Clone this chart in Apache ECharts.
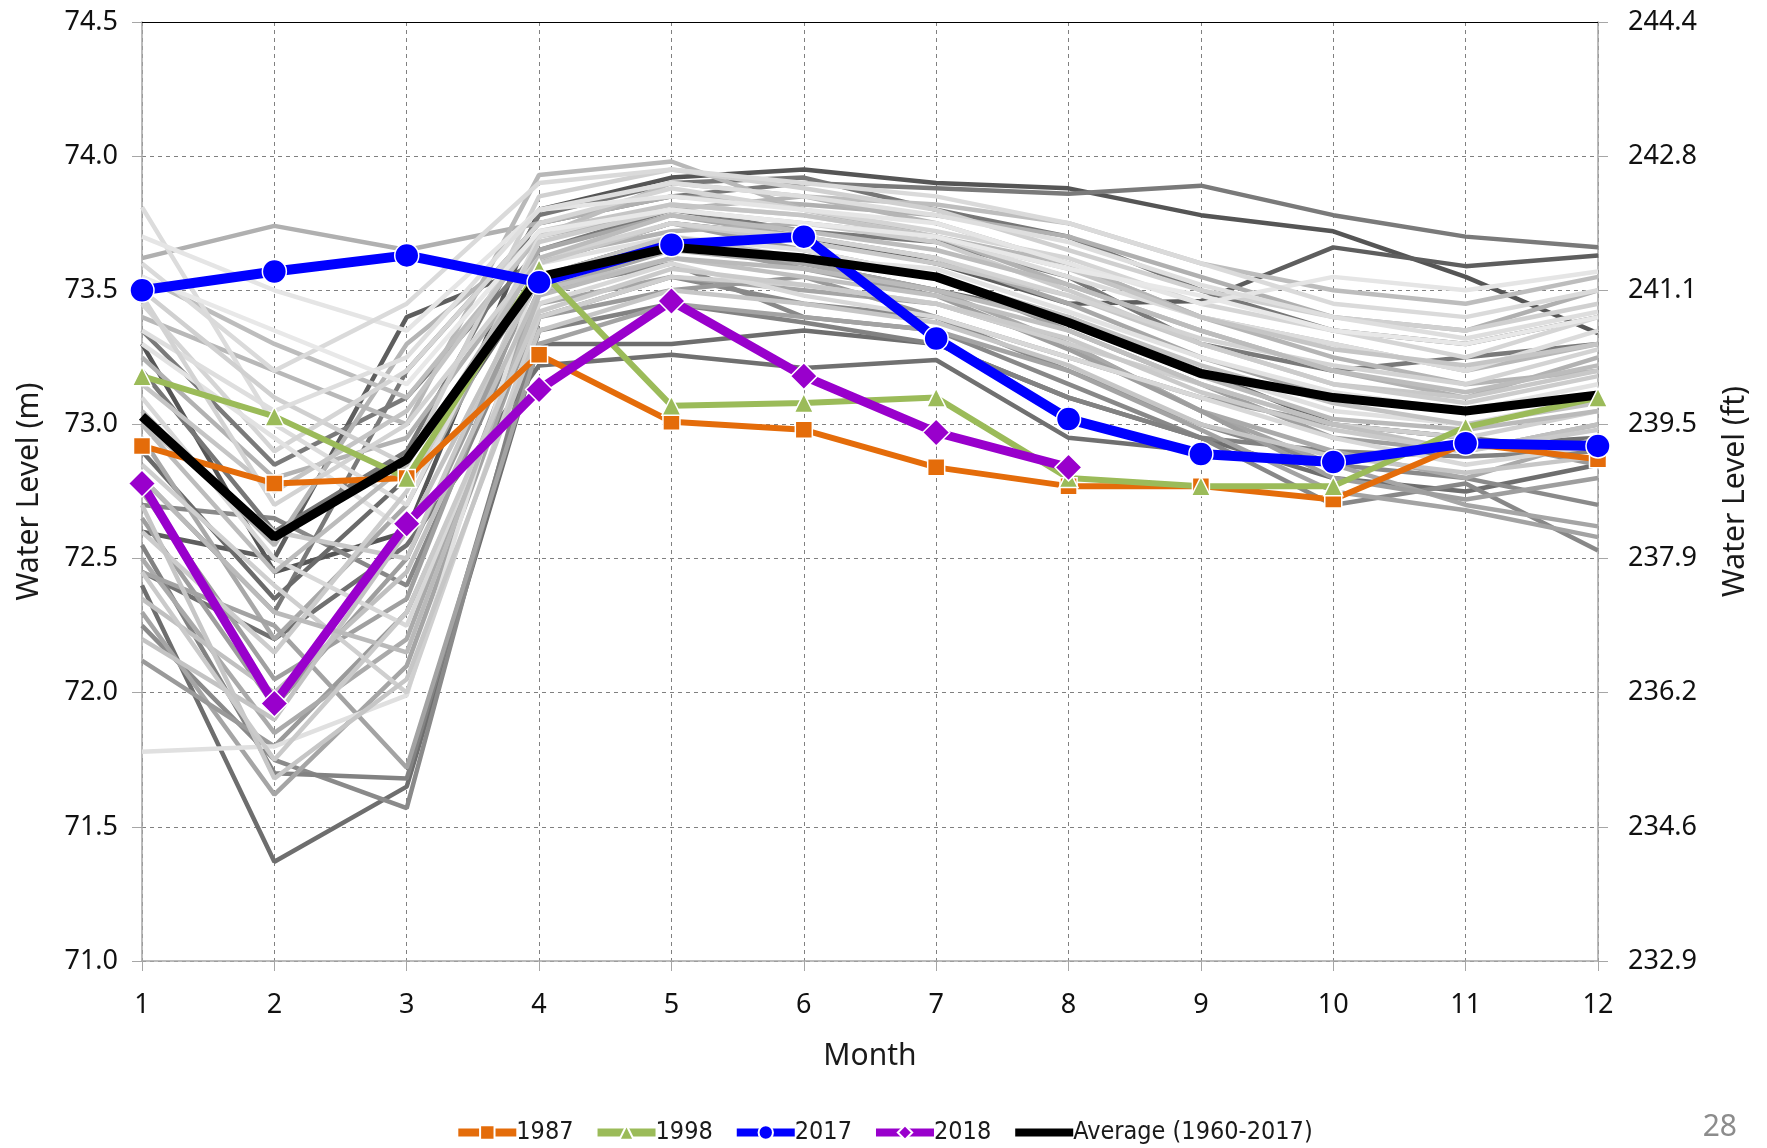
<!DOCTYPE html>
<html>
<head>
<meta charset="utf-8">
<title>Water Level by Month</title>
<script src="https://cdn.jsdelivr.net/npm/echarts@6/dist/echarts.min.js"></script>
<style>
  html, body { margin: 0; padding: 0; background: #fff; }
  #chart { width: 1767px; height: 1148px; }
</style>
</head>
<body>
<div id="chart"></div>
<script>
// months on the x axis
var months = ['1', '2', '3', '4', '5', '6', '7', '8', '9', '10', '11', '12'];

// highlighted years (m)
var y1987 = [72.92, 72.78, 72.80, 73.26, 73.01, 72.98, 72.84, 72.77, 72.77, 72.72, 72.93, 72.87];
var y1998 = [73.18, 73.03, 72.80, 73.58, 73.07, 73.08, 73.10, 72.80, 72.77, 72.77, 72.99, 73.10];
var y2017 = [73.50, 73.57, 73.63, 73.53, 73.67, 73.70, 73.32, 73.02, 72.89, 72.86, 72.93, 72.92];
var y2018 = [72.78, 71.96, 72.63, 73.13, 73.46, 73.18, 72.97, 72.84, null, null, null, null];
var average = [73.03, 72.58, 72.87, 73.55, 73.66, 73.62, 73.55, 73.38, 73.19, 73.10, 73.05, 73.11];

// the other years 1960-2017, drawn in grey
var greyShades = [
  '#6e6e6e', '#8a8a8a', '#555555', '#7a7a7a', '#5e5e5e', '#707070', '#7a7a7a', '#888888', '#6a6a6a', '#828282', '#777777',
  '#b0b0b0', '#a5a5a5', '#9a9a9a', '#b8b8b8', '#a0a0a0', '#b5b5b5', '#aaaaaa', '#bdbdbd', '#a8a8a8', '#9e9e9e', '#b2b2b2', '#a3a3a3',
  '#e0e0e0', '#dcdcdc', '#d0d0d0', '#c8c8c8', '#d5d5d5', '#e5e5e5', '#cfcfcf', '#c5c5c5', '#dadada', '#c0c0c0', '#e2e2e2',
  '#cccccc', '#d8d8d8', '#c3c3c3', '#dedede', '#bababa', '#d3d3d3', '#c6c6c6', '#e8e8e8', '#bcbcbc', '#cacaca'
];
var greyLevels = [
  [72.40, 71.37, 71.65, 73.30, 73.30, 73.35, 73.30, 73.10, 72.95, 72.80, 72.75, 72.85],
  [72.25, 71.75, 71.57, 73.40, 73.55, 73.45, 73.40, 73.20, 73.00, 72.85, 72.80, 72.70],
  [73.30, 72.45, 72.60, 73.80, 73.92, 73.95, 73.90, 73.88, 73.78, 73.72, 73.55, 73.34],
  [72.80, 72.30, 73.20, 73.75, 73.85, 73.90, 73.88, 73.86, 73.89, 73.78, 73.70, 73.66],
  [72.60, 72.50, 73.40, 73.60, 73.75, 73.70, 73.60, 73.45, 73.46, 73.66, 73.59, 73.63],
  [72.45, 72.20, 72.55, 73.22, 73.26, 73.21, 73.24, 72.95, 72.90, 72.85, 72.92, 72.95],
  [73.35, 72.85, 73.10, 73.65, 73.80, 73.72, 73.68, 73.55, 73.30, 73.20, 73.25, 73.30],
  [72.70, 72.65, 72.40, 73.50, 73.60, 73.40, 73.35, 73.15, 72.95, 72.70, 72.78, 72.53],
  [72.90, 72.35, 72.80, 73.55, 73.70, 73.60, 73.50, 73.40, 73.20, 73.00, 72.95, 72.90],
  [72.55, 71.70, 71.68, 73.35, 73.45, 73.38, 73.30, 73.10, 72.95, 72.90, 72.88, 72.90],
  [73.20, 72.60, 72.90, 73.78, 73.90, 73.92, 73.80, 73.70, 73.50, 73.35, 73.30, 73.40],
  [73.62, 73.74, 73.65, 73.75, 73.85, 73.82, 73.78, 73.70, 73.55, 73.40, 73.35, 73.50],
  [72.30, 71.62, 72.10, 73.45, 73.55, 73.50, 73.45, 73.30, 73.05, 72.85, 72.70, 72.62],
  [72.12, 71.80, 72.30, 73.40, 73.50, 73.55, 73.40, 73.25, 73.10, 73.00, 72.95, 72.85],
  [73.40, 73.20, 73.00, 73.93, 73.98, 73.80, 73.70, 73.60, 73.40, 73.30, 73.20, 73.30],
  [72.75, 72.05, 72.35, 73.60, 73.75, 73.65, 73.55, 73.35, 73.15, 72.95, 72.90, 73.00],
  [73.05, 72.55, 73.30, 73.70, 73.80, 73.85, 73.75, 73.60, 73.40, 73.25, 73.15, 73.20],
  [72.50, 71.85, 72.20, 73.50, 73.65, 73.60, 73.50, 73.30, 73.05, 72.90, 72.80, 72.95],
  [73.55, 73.30, 73.10, 73.70, 73.90, 73.85, 73.82, 73.75, 73.60, 73.50, 73.45, 73.55],
  [72.95, 72.20, 72.70, 73.65, 73.78, 73.70, 73.62, 73.45, 73.25, 73.10, 73.05, 73.10],
  [72.65, 71.95, 72.50, 73.55, 73.68, 73.58, 73.48, 73.28, 73.05, 72.80, 72.72, 72.80],
  [73.25, 72.80, 72.95, 73.62, 73.72, 73.75, 73.70, 73.52, 73.35, 73.20, 73.10, 73.25],
  [72.45, 72.25, 71.72, 73.30, 73.45, 73.40, 73.35, 73.20, 72.98, 72.75, 72.68, 72.58],
  [71.78, 71.80, 71.99, 73.60, 73.70, 73.65, 73.55, 73.40, 73.20, 73.05, 73.00, 73.10],
  [73.81, 73.00, 72.70, 73.70, 73.82, 73.78, 73.70, 73.55, 73.40, 73.30, 73.20, 73.35],
  [73.50, 73.10, 72.85, 73.85, 73.95, 73.88, 73.80, 73.65, 73.50, 73.40, 73.35, 73.45],
  [73.00, 72.60, 72.50, 73.60, 73.75, 73.68, 73.60, 73.48, 73.30, 73.15, 73.10, 73.20],
  [73.45, 72.90, 73.20, 73.75, 73.88, 73.80, 73.72, 73.62, 73.45, 73.35, 73.25, 73.40],
  [73.70, 73.50, 73.35, 73.80, 73.85, 73.80, 73.75, 73.60, 73.45, 73.55, 73.50, 73.57],
  [72.85, 72.40, 72.00, 73.40, 73.55, 73.52, 73.45, 73.30, 73.15, 73.00, 72.95, 73.05],
  [73.15, 72.75, 73.05, 73.72, 73.82, 73.78, 73.70, 73.58, 73.40, 73.28, 73.22, 73.30],
  [73.60, 73.20, 73.45, 73.90, 73.95, 73.90, 73.85, 73.75, 73.60, 73.45, 73.40, 73.50],
  [72.35, 72.00, 72.45, 73.50, 73.62, 73.55, 73.48, 73.35, 73.15, 73.00, 72.90, 73.00],
  [73.30, 72.95, 72.60, 73.55, 73.65, 73.62, 73.58, 73.42, 73.25, 73.12, 73.05, 73.15],
  [72.60, 72.15, 72.75, 73.68, 73.80, 73.75, 73.68, 73.50, 73.30, 73.15, 73.08, 73.18],
  [73.10, 72.50, 72.25, 73.45, 73.60, 73.48, 73.40, 73.25, 73.10, 72.95, 72.85, 72.92],
  [72.20, 71.90, 72.60, 73.55, 73.70, 73.62, 73.55, 73.40, 73.22, 73.08, 73.00, 73.08],
  [73.35, 73.05, 73.25, 73.80, 73.90, 73.85, 73.78, 73.68, 73.52, 73.40, 73.32, 73.42],
  [72.80, 72.30, 72.15, 73.48, 73.62, 73.58, 73.50, 73.38, 73.18, 73.02, 72.98, 73.05],
  [73.48, 72.70, 73.00, 73.62, 73.75, 73.70, 73.62, 73.48, 73.32, 73.22, 73.15, 73.28],
  [72.70, 71.68, 72.05, 73.35, 73.50, 73.45, 73.38, 73.22, 73.00, 72.88, 72.82, 72.88],
  [73.55, 73.35, 73.15, 73.72, 73.80, 73.75, 73.70, 73.58, 73.48, 73.35, 73.30, 73.40],
  [73.00, 72.45, 72.85, 73.62, 73.78, 73.72, 73.65, 73.52, 73.35, 73.20, 73.12, 73.22],
  [72.45, 71.75, 72.30, 73.42, 73.58, 73.52, 73.45, 73.32, 73.12, 72.98, 72.90, 72.98]
];

var M_TO_FT = 3.28084;
var labelFont = "'Noto Sans', 'DejaVu Sans', sans-serif";
var legendFont = "'Liberation Sans Narrow', 'DejaVu Sans Condensed', 'Noto Sans', sans-serif";

var chart = echarts.init(document.getElementById('chart'));

var series = [];
greyLevels.forEach(function (row, i) {
  series.push({
    name: 'yr' + i,
    type: 'line',
    data: row,
    symbol: 'none',
    silent: true,
    z: 2,
    lineStyle: { color: greyShades[i], width: 4.5 },
    emphasis: { disabled: true }
  });
});

function hiLine(name, data, color, width, symbol, size) {
  return {
    name: name,
    type: 'line',
    data: data,
    symbol: symbol,
    symbolSize: size,
    showSymbol: symbol !== 'none',
    z: 5,
    lineStyle: { color: color, width: width },
    itemStyle: { color: color, borderColor: '#ffffff', borderWidth: 1.5 },
    emphasis: { disabled: true }
  };
}
series.push(hiLine('1987', y1987, '#E46C0A', 6, 'rect', 17));
series.push(hiLine('1998', y1998, '#9BBB59', 6, 'triangle', 19));
series.push(hiLine('2017', y2017, '#0000FF', 10, 'circle', 24));
series.push(hiLine('2018', y2018, '#9900CC', 9, 'diamond', 27));
series.push(hiLine('Average (1960-2017)', average, '#000000', 9, 'none', 0));

chart.setOption({
  animation: false,
  backgroundColor: '#ffffff',
  grid: { left: 142, right: 169, top: 22, bottom: 187, containLabel: false },
  legend: {
    data: ['1987', '1998', '2017', '2018',
      { name: 'Average (1960-2017)', itemStyle: { opacity: 0 } }],
    bottom: 3,
    left: 'center',
    padding: 0,
    itemWidth: 58,
    itemHeight: 18,
    itemGap: 20,
    lineStyle: { width: 8 },
    textStyle: { fontFamily: legendFont, fontSize: 25, color: '#1a1a1a', padding: [0, 0, 0, -5] }
  },
  xAxis: [{
    type: 'category',
    data: months,
    boundaryGap: false,
    name: 'Month',
    nameLocation: 'middle',
    nameGap: 80,
    nameTextStyle: { fontFamily: labelFont, fontSize: 30, color: '#1a1a1a' },
    axisLine: { lineStyle: { color: '#a6a6a6', width: 1.5 } },
    axisTick: { show: true, length: 10, alignWithLabel: true, lineStyle: { color: '#a6a6a6' } },
    axisLabel: { fontFamily: labelFont, fontSize: 27, color: '#111', margin: 31 },
    splitLine: { show: true, lineStyle: { color: '#808080', type: [4, 4], width: 1 } }
  }, {
    type: 'category',
    data: months,
    boundaryGap: false,
    position: 'top',
    axisLine: { lineStyle: { color: '#000', width: 1.2 } },
    axisTick: { show: false },
    axisLabel: { show: false },
    splitLine: { show: false }
  }],
  yAxis: [{
    type: 'value',
    min: 71,
    max: 74.5,
    interval: 0.5,
    name: 'Water Level (m)',
    nameLocation: 'middle',
    nameGap: 98,
    nameRotate: 90,
    nameTextStyle: { fontFamily: labelFont, fontSize: 30, color: '#1a1a1a' },
    axisLine: { show: true, lineStyle: { color: '#a6a6a6', width: 1.5 } },
    axisTick: { show: true, length: 10, lineStyle: { color: '#a6a6a6' } },
    axisLabel: { fontFamily: labelFont, fontSize: 27, color: '#111', margin: 24,
      formatter: function (v) { return v.toFixed(1); } },
    splitLine: { show: true, lineStyle: { color: '#808080', type: [4, 4], width: 1 } }
  }, {
    type: 'value',
    position: 'right',
    min: 71,
    max: 74.5,
    interval: 0.5,
    name: 'Water Level (ft)',
    nameLocation: 'middle',
    nameGap: 122,
    nameRotate: 90,
    nameTextStyle: { fontFamily: labelFont, fontSize: 30, color: '#1a1a1a' },
    axisLine: { show: true, lineStyle: { color: '#a6a6a6', width: 1.5 } },
    axisTick: { show: true, length: 10, lineStyle: { color: '#a6a6a6' } },
    axisLabel: { fontFamily: labelFont, fontSize: 27, color: '#111', margin: 30,
      formatter: function (v) { return (v * M_TO_FT).toFixed(1); } },
    splitLine: { show: false }
  }],
  graphic: [{
    type: 'text',
    right: 30,
    bottom: 6,
    style: { text: '28', fontFamily: labelFont, fontSize: 30, fill: '#8c8c8c' }
  }],
  series: series
});
</script>
</body>
</html>
